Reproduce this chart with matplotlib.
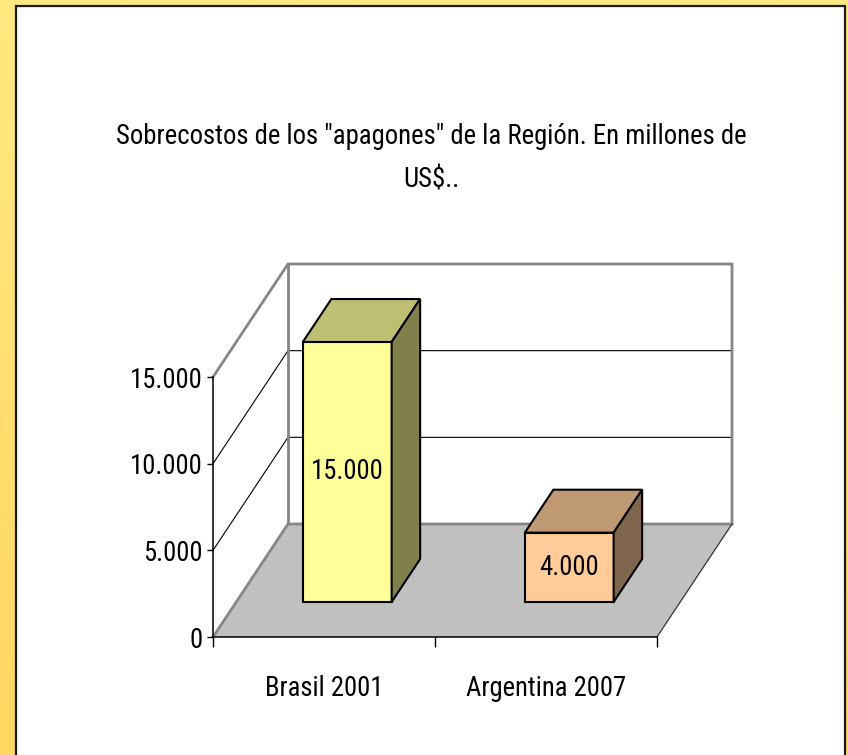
import numpy as np
import matplotlib
matplotlib.use('Agg')
import matplotlib.pyplot as plt
from matplotlib.patches import Polygon, Rectangle
from matplotlib.lines import Line2D
from matplotlib.transforms import ScaledTranslation, IdentityTransform
from matplotlib import font_manager as fm
from matplotlib.textpath import TextPath
import matplotlib.colors as mcolors

# ---------------- data ----------------
categories = ['Brasil 2001', 'Argentina 2007']
values = [15000, 4000]
value_labels = ['15.000', '4.000']
ytick_values = [0, 5000, 10000, 15000]
ytick_labels = ['0', '5.000', '10.000', '15.000']
title_lines = ['Sobrecostos de los "apagones" de la Región. En millones de', 'US$..']
front_colors = ['#FFFF99', '#FFCC99']

W, H = 848, 755
DPI = 100

# ---------------- narrow font (Roboto Condensed if present) ----------------
FP = fm.FontProperties(family=['Roboto Condensed', 'Liberation Sans Narrow', 'DejaVu Sans'],
                       stretch='condensed')
try:
    names = {fe.name for fe in fm.fontManager.ttflist}
    if 'Roboto Condensed' in names:
        fe = [f for f in fm.fontManager.ttflist
              if f.name == 'Roboto Condensed' and f.style == 'normal'
              and f.weight in (400, 'normal', 'regular')]
        if fe:
            FP = fm.FontProperties(fname=fe[0].fname)
except Exception:
    pass


def size_for(text, px):
    w = TextPath((0, 0), text, size=100, prop=FP).get_extents().width
    return 100 * px / (w * DPI / 72.0)


FS_TITLE = size_for(title_lines[0], 607) * 1.04
FS = size_for('15.000', 66) * 1.05


def fprop(size):
    p = FP.copy()
    p.set_size(size)
    return p


fig = plt.figure(figsize=(W / DPI, H / DPI), dpi=DPI)

# background (yellow gradient + white panel)
bg = fig.add_axes([0, 0, 1, 1], zorder=-10)
bg.set_axis_off()
g = np.linspace(0, 1, 256)[:, None, None]
top = np.array([255, 233, 128]) / 255
bot = np.array([255, 214, 98]) / 255
img = np.repeat(top + (bot - top) * g, 2, axis=1)
bg.imshow(img, aspect='auto', extent=[0, W, H, 0])
bg.set_xlim(0, W)
bg.set_ylim(H, 0)
bg.add_patch(Rectangle((16, 6), 829, 770, facecolor='white',
                       edgecolor='#1a1a1a', lw=1.6))

# main axes = front plane of the 3D box
x0, x1 = 213, 657
yb, yt = 637, 377
ax = fig.add_axes([x0 / W, (H - yb) / H, (x1 - x0) / W, (yb - yt) / H])
ax.set_xlim(0, len(categories))
ax.set_ylim(0, ytick_values[-1])
ax.set_autoscale_on(False)
ax.patch.set_visible(False)

DEPTH = (0.75, 1.13)  # inches of offset for full depth
VMAX = ytick_values[-1]
NC = len(categories)


def proj(x, v, d):
    px, py = ax.transData.transform((x, v))
    ox, oy = fig.dpi_scale_trans.transform((d * DEPTH[0], d * DEPTH[1]))
    return (px + ox, py + oy)


def poly(pts, **kw):
    ax.add_patch(Polygon(pts, closed=True, transform=IdentityTransform(), clip_on=False, **kw))


def line(pts, **kw):
    xs, ys = zip(*pts)
    ax.add_line(Line2D(xs, ys, transform=IdentityTransform(), clip_on=False, **kw))


# floor and walls
poly([proj(0, 0, 0), proj(NC, 0, 0), proj(NC, 0, 1), proj(0, 0, 1)],
     facecolor='#C0C0C0', edgecolor='none', zorder=0.5)
poly([proj(0, 0, 0), proj(0, 0, 1), proj(0, VMAX, 1), proj(0, VMAX, 0)],
     facecolor='white', edgecolor='none', zorder=0.5)
poly([proj(0, 0, 1), proj(NC, 0, 1), proj(NC, VMAX, 1), proj(0, VMAX, 1)],
     facecolor='white', edgecolor='none', zorder=0.5)

# gridlines
for v in ytick_values[1:-1]:
    line([proj(0, v, 0), proj(0, v, 1), proj(NC, v, 1)], color='black', lw=0.8, zorder=0.7)

# gray wall edges
GE = dict(color='#868686', lw=2.0, zorder=0.8, solid_joinstyle='miter')
line([proj(0, 0, 0), proj(0, 0, 1), proj(NC, 0, 1)], **GE)
line([proj(0, 0, 1), proj(0, VMAX, 1)], **GE)
line([proj(0, VMAX, 0), proj(0, VMAX, 1), proj(NC, VMAX, 1), proj(NC, 0, 1)], **GE)
line([proj(NC, 0, 0), proj(NC, 0, 1)], color='#333333', lw=0.9, zorder=0.8)

# bars
d0, d1 = 0.31, 0.69
bw = 0.4
for i, (v, c, lab) in enumerate(zip(values, front_colors, value_labels)):
    cx = i + 0.5
    xl, xr = cx - bw / 2, cx + bw / 2
    rgb = np.array(mcolors.to_rgb(c))
    ek = dict(edgecolor='black', lw=1.5, joinstyle='miter', zorder=3)
    poly([proj(xl, 0, d0), proj(xr, 0, d0), proj(xr, v, d0), proj(xl, v, d0)],
         facecolor=rgb, **ek)
    poly([proj(xl, v, d0), proj(xr, v, d0), proj(xr, v, d1), proj(xl, v, d1)],
         facecolor=rgb * 0.75, **ek)
    poly([proj(xr, 0, d0), proj(xr, 0, d1), proj(xr, v, d1), proj(xr, v, d0)],
         facecolor=rgb * 0.5, **ek)
    ax.text(cx, v / 2, lab,
            transform=ax.transData + ScaledTranslation(d0 * DEPTH[0], d0 * DEPTH[1], fig.dpi_scale_trans),
            ha='center', va='center', fontproperties=fprop(FS), color='black', zorder=4)

# axes styling
for s in ['top', 'right']:
    ax.spines[s].set_visible(False)
for s in ['left', 'bottom']:
    ax.spines[s].set_color('black')
    ax.spines[s].set_linewidth(1.1)
    ax.spines[s].set_zorder(2.5)

ax.set_yticks(ytick_values)
ax.set_yticklabels(ytick_labels, fontproperties=fprop(FS))
ax.tick_params(axis='y', direction='out', length=4.5, width=1.0, pad=3.0, color='black')

ax.set_xticks(np.arange(NC + 1))
ax.set_xticklabels([''] * (NC + 1))
ax.tick_params(axis='x', which='major', direction='out', length=7.5, width=1.0, color='black')
ax.set_xticks(np.arange(NC) + 0.5, minor=True)
ax.set_xticklabels(categories, minor=True, fontproperties=fprop(FS))
ax.tick_params(axis='x', which='minor', length=0, pad=27)

# title
fig.text(431 / W, 1 - 137 / H, title_lines[0], ha='center', va='center', fontproperties=fprop(FS_TITLE))
fig.text(431 / W, 1 - 180 / H, title_lines[1], ha='center', va='center', fontproperties=fprop(FS_TITLE))

fig.savefig('out.png', dpi=DPI)
